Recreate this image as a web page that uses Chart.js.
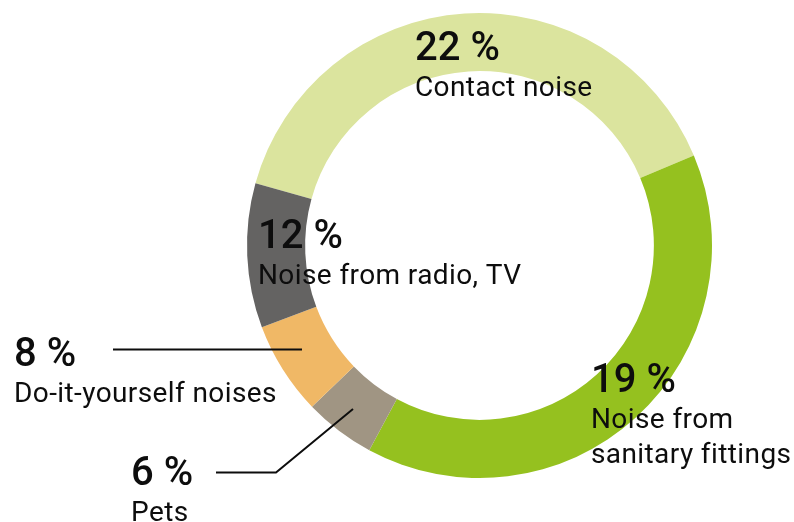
<!DOCTYPE html>
<html>
<head>
<meta charset="utf-8">
<script src="https://cdn.jsdelivr.net/npm/chart.js@4"></script>
<style>
  html, body { margin: 0; padding: 0; background: #fff; }
  #wrap { width: 794px; height: 522px; position: relative; }
</style>
</head>
<body>
<div id="wrap"><canvas id="noiseChart"></canvas></div>
<script>
// categories, clockwise from the top left
const categories = ['Contact noise', 'Noise from sanitary fittings', 'Pets', 'Do-it-yourself noises', 'Noise from radio, TV'];
// printed shares (%)
const shares = [22, 19, 6, 8, 12];
// size of each ring segment as drawn, in degrees
const arcDegrees = [141.7, 141.1, 17.8, 23.3, 36.1];
const colors = ['#dbe49e', '#95c11f', '#a09583', '#f0b866', '#646362'];

// where each label goes (layout only)
const labelLayout = [
    { x: 415, y: 60, lines: ['Contact noise'] },
    { x: 591, y: 392, lines: ['Noise from', 'sanitary fittings'] },
    { x: 131, y: 485, lines: ['Pets'], leader: [[216, 472.5], [276, 472.5], [353, 409]] },
    { x: 14, y: 366, lines: ['Do-it-yourself noises'], leader: [[113, 349.5], [302, 349.5]] },
    { x: 258, y: 248, lines: ['Noise from radio, TV'] }
];

const labelPlugin = {
    id: 'labels',
    afterDatasetsDraw(chart) {
        const ctx = chart.ctx;
        ctx.save();
        ctx.fillStyle = '#0d0d0d';
        ctx.strokeStyle = '#0d0d0d';
        ctx.lineWidth = 2;
        ctx.textAlign = 'left';
        ctx.textBaseline = 'alphabetic';
        labelLayout.forEach((l, i) => {
            if (l.leader) {
                ctx.beginPath();
                l.leader.forEach((p, j) => j ? ctx.lineTo(p[0], p[1]) : ctx.moveTo(p[0], p[1]));
                ctx.stroke();
            }
            ctx.letterSpacing = '0px';
            ctx.font = '500 40px Roboto';
            ctx.fillText(shares[i] + ' %', l.x, l.y);
            ctx.letterSpacing = '0.4px';
            ctx.font = '400 28px Roboto';
            l.lines.forEach((t, k) => ctx.fillText(t, l.x, l.y + 36 + k * 35));
        });
        ctx.restore();
    }
};

new Chart(document.getElementById('noiseChart'), {
    type: 'doughnut',
    data: {
        labels: categories,
        datasets: [{
            data: arcDegrees,
            backgroundColor: colors,
            borderWidth: 0,
            hoverOffset: 0
        }]
    },
    options: {
        responsive: true,
        maintainAspectRatio: false,
        animation: false,
        events: [],
        rotation: 285.5,
        cutout: '75%',
        layout: { padding: { left: 247, right: 82, top: 13, bottom: 44 } },
        plugins: {
            legend: { display: false },
            tooltip: { enabled: false }
        }
    },
    plugins: [labelPlugin]
});
</script>
</body>
</html>
